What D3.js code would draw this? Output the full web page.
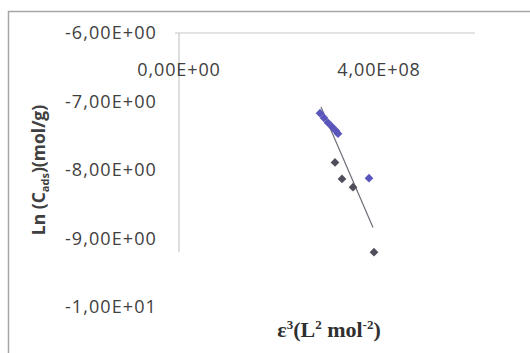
<!DOCTYPE html>
<html>
<head>
<meta charset="utf-8">
<script src="https://cdn.jsdelivr.net/npm/d3@7/dist/d3.min.js"></script>
<style>
  html, body { margin: 0; padding: 0; background: #fff; }
  svg { display: block; }
</style>
</head>
<body>
<svg id="chart" width="530" height="353"></svg>
<script>
// Dubinin–Radushkevich plot: ln(C_ads) against ε²
const xTickValues = [0, 4e8];
const xTickLabels = ["0,00E+00", "4,00E+08"];
const yTickValues = [-6, -7, -8, -9, -10];
const yTickLabels = ["-6,00E+00", "-7,00E+00", "-8,00E+00", "-9,00E+00", "-1,00E+01"];

// blue series
const blueX = [2.82e8, 2.90e8, 2.98e8, 3.06e8, 3.14e8, 3.18e8, 3.80e8];
const blueY = [-7.17, -7.24, -7.31, -7.37, -7.43, -7.47, -8.12];
// dark series
const darkX = [3.12e8, 3.26e8, 3.48e8, 3.90e8];
const darkY = [-7.89, -8.13, -8.25, -9.20];
// linear trend line end points
const trendX = [2.84e8, 3.88e8];
const trendY = [-7.08, -8.84];

const xDomain = [0, 6e8];
const yDomain = [-6, -10];
const yAxisLineEnd = -9.2;

const svg = d3.select("#chart");
const x = d3.scaleLinear().domain(xDomain).range([179, 479]);
const y = d3.scaleLinear().domain(yDomain).range([33, 307]);

// chart frame
svg.append("rect")
  .attr("x", 8.5).attr("y", 11.5)
  .attr("width", 640).attr("height", 420)
  .attr("fill", "#fff")
  .attr("stroke", "#a6a6a6").attr("stroke-width", 1.5);

// horizontal axis line (top, at y = -6)
svg.append("line")
  .attr("x1", x(0) - 4).attr("x2", x(xDomain[1]) - 4)
  .attr("y1", y(-6)).attr("y2", y(-6))
  .attr("stroke", "#c8c8c8").attr("stroke-width", 1.2);

// vertical axis line
svg.append("line")
  .attr("x1", x(0)).attr("x2", x(0))
  .attr("y1", y(-6)).attr("y2", y(yAxisLineEnd))
  .attr("stroke", "#c8c8c8").attr("stroke-width", 1.2);

const tickFont = "'Open Sans', 'Liberation Sans', sans-serif";

// y tick labels
svg.append("g").selectAll("text")
  .data(yTickValues)
  .join("text")
  .attr("x", 157)
  .attr("y", d => y(d))
  .attr("dy", "0.36em")
  .attr("text-anchor", "end")
  .attr("font-family", tickFont)
  .attr("font-size", 18)
  .attr("letter-spacing", 1.1)
  .attr("fill", "#404040")
  .text((d, i) => yTickLabels[i]);

// x tick labels
svg.append("g").selectAll("text")
  .data(xTickValues)
  .join("text")
  .attr("x", d => x(d))
  .attr("y", 70)
  .attr("dy", "0.36em")
  .attr("text-anchor", "middle")
  .attr("font-family", tickFont)
  .attr("font-size", 18)
  .attr("letter-spacing", 0.9)
  .attr("fill", "#404040")
  .text((d, i) => xTickLabels[i]);

// trend line
svg.append("line")
  .attr("x1", x(trendX[0])).attr("y1", y(trendY[0]))
  .attr("x2", x(trendX[1])).attr("y2", y(trendY[1]))
  .attr("stroke", "#6e6e78").attr("stroke-width", 1.2);

// diamond markers
const diamond = d3.symbol().type(d3.symbolSquare).size(38);
function drawSeries(xs, ys, color) {
  svg.append("g").selectAll("path")
    .data(xs.map((v, i) => [v, ys[i]]))
    .join("path")
    .attr("d", diamond)
    .attr("transform", d => `translate(${x(d[0])},${y(d[1])}) rotate(45)`)
    .attr("fill", color);
}
drawSeries(darkX, darkY, "#4f4f5c");
drawSeries(blueX, blueY, "#5a55bb");

// y axis title
const yTitle = svg.append("text")
  .attr("transform", "translate(45,170) rotate(-90)")
  .attr("text-anchor", "middle")
  .attr("font-family", tickFont)
  .attr("font-weight", "bold")
  .attr("font-size", 17.5)
  .attr("fill", "#404040");
yTitle.append("tspan").text("Ln (C");
yTitle.append("tspan").attr("font-size", 11).attr("dy", 4).text("ads");
yTitle.append("tspan").attr("dy", -4).text(")(mol/g)");

// x axis title
const xTitle = svg.append("text")
  .attr("x", 329).attr("y", 337)
  .attr("text-anchor", "middle")
  .attr("font-family", "'Liberation Serif', 'DejaVu Serif', serif")
  .attr("font-weight", "bold")
  .attr("font-size", 22)
  .attr("fill", "#303030");
xTitle.append("tspan").text("ε");
xTitle.append("tspan").attr("font-size", 13).attr("dy", -8).text("3");
xTitle.append("tspan").attr("dy", 8).text("(L");
xTitle.append("tspan").attr("font-size", 13).attr("dy", -8).text("2");
xTitle.append("tspan").attr("dy", 8).text(" mol");
xTitle.append("tspan").attr("font-size", 13).attr("dy", -8).text("-2");
xTitle.append("tspan").attr("dy", 8).text(")");
</script>
</body>
</html>
